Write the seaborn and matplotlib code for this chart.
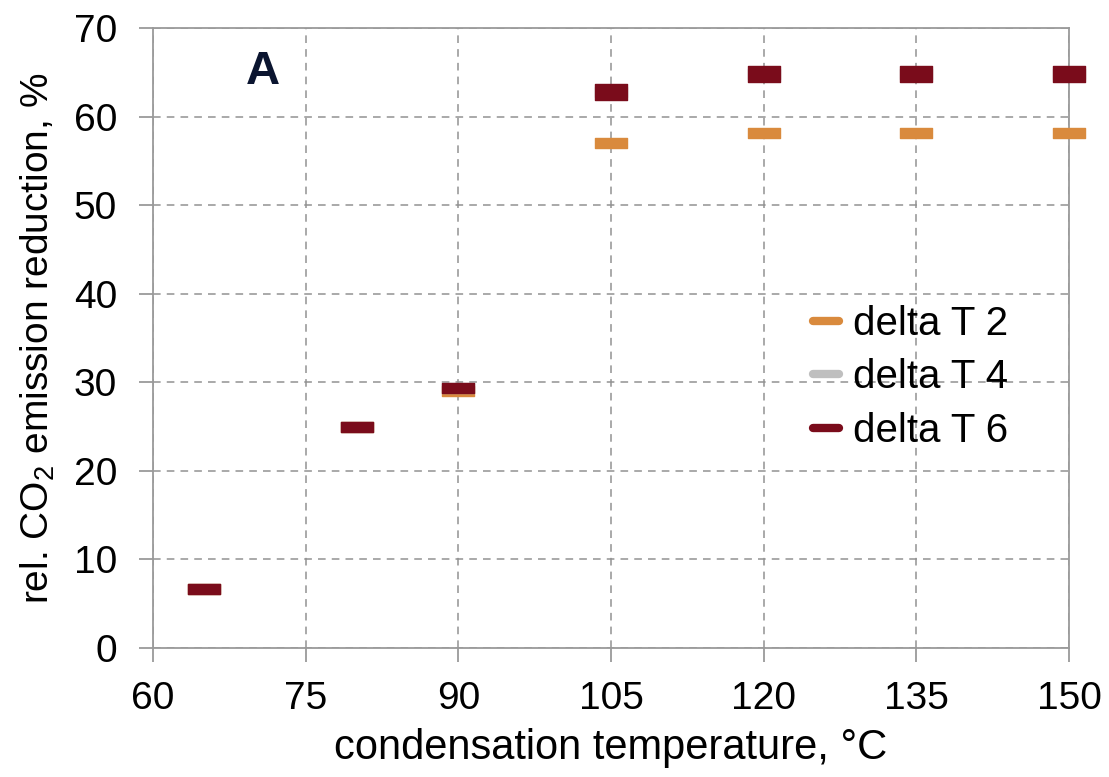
import matplotlib
matplotlib.use("Agg")
import matplotlib.pyplot as plt
from matplotlib.path import Path
from matplotlib.markers import MarkerStyle
from matplotlib.lines import Line2D
import seaborn as sns
import pandas as pd

temps = [65, 80, 90, 105, 120, 135, 150]
dT2 = [6.7, 24.9, 29.0, 57.0, 58.2, 58.2, 58.2]
dT4 = [6.7, 24.9, 29.3, 62.8, 64.8, 64.8, 64.8]
dT6 = [6.7, 24.9, 29.4, 62.8, 64.8, 64.8, 64.8]
series_names = ["delta T 2", "delta T 4", "delta T 6"]
colors = ["#D98A3D", "#BFBFBF", "#7A0C1B"]
x_ticks = [60, 75, 90, 105, 120, 135, 150]
y_ticks = [0, 10, 20, 30, 40, 50, 60, 70]

sns.set_theme(style="white")
plt.rcParams["font.family"] = ["Liberation Sans", "DejaVu Sans"]
plt.rcParams["mathtext.default"] = "regular"
plt.rcParams["text.color"] = "black"
plt.rcParams["axes.labelcolor"] = "black"


def rect_marker(h):
    verts = [(-1, -h), (1, -h), (1, h), (-1, h), (-1, -h)]
    codes = [Path.MOVETO, Path.LINETO, Path.LINETO, Path.LINETO, Path.CLOSEPOLY]
    return MarkerStyle(Path(verts, codes))


thin = rect_marker(0.33)
thick = rect_marker(0.54)

df = pd.DataFrame({"temp": temps * 3,
                   "value": dT2 + dT4 + dT6,
                   "series": [n for n in series_names for _ in temps]})
df["thick"] = (df["series"] == "delta T 6") & (df["temp"] >= 105)

fig = plt.figure(figsize=(11.09, 7.77), dpi=100)
ax = fig.add_axes([153 / 1109, 1 - 648 / 777, (1069 - 153) / 1109, 620 / 777])

size = 500
for name, col, z in zip(series_names, colors, [3, 4, 5]):
    sub = df[(df["series"] == name) & (~df["thick"])]
    sns.scatterplot(data=sub, x="temp", y="value", marker=thin, s=size,
                    color=col, edgecolor=col, linewidth=1.0, ax=ax,
                    zorder=z, legend=False, clip_on=False)
    subt = df[(df["series"] == name) & (df["thick"])]
    if len(subt):
        sns.scatterplot(data=subt, x="temp", y="value", marker=thick, s=size,
                        color=col, edgecolor=col, linewidth=1.0, ax=ax,
                        zorder=z, legend=False, clip_on=False)

ax.set_xlim(60, 150)
ax.set_ylim(0, 70)
ax.set_xticks(x_ticks)
ax.set_yticks(y_ticks)
ax.grid(True, linestyle=(0, (5, 4)), color="#929292", linewidth=1.1)
ax.set_axisbelow(True)
for sp in ax.spines.values():
    sp.set_visible(True)
    sp.set_color("#9a9a9a")
    sp.set_linewidth(1.3)
ax.tick_params(axis="both", direction="out", length=10, width=1.3,
               color="#9a9a9a", labelsize=28, labelcolor="black",
               bottom=True, left=True)
ax.tick_params(axis="y", pad=16)
ax.tick_params(axis="x", pad=14)
ax.set_xlabel("condensation temperature, °C", fontsize=30, labelpad=8,
              color="black")
ax.set_ylabel("rel. CO$_2$ emission reduction, %", fontsize=28, labelpad=12,
              color="black")

ax.text(70.8, 65.0, "A", fontsize=34, fontweight="bold", color="#0B1530",
        ha="center", va="center")

handles = [Line2D([0], [0], color=c, lw=6, solid_capstyle="round") for c in colors]
leg = ax.legend(handles, series_names, loc="upper left",
                bbox_to_anchor=(813 / 1109, 1 - 305 / 777),
                bbox_transform=fig.transFigure,
                frameon=False, fontsize=29, handlelength=0.65, handletextpad=0.35,
                labelspacing=0.38, borderaxespad=0, borderpad=0)
for t in leg.get_texts():
    t.set_color("black")

fig.savefig("out.png", dpi=100)
